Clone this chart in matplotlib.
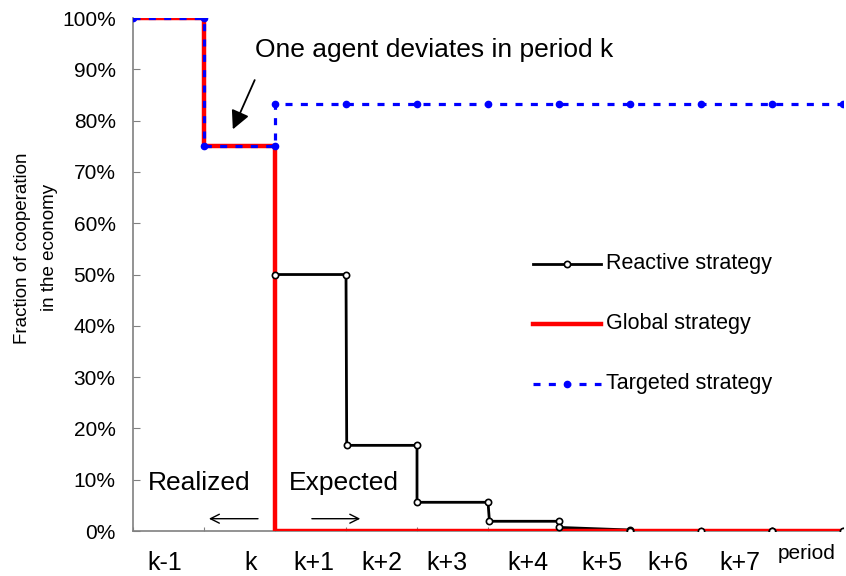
import numpy as np
import matplotlib.pyplot as plt
from matplotlib.ticker import PercentFormatter

plt.rcParams['font.family'] = ['Liberation Sans', 'DejaVu Sans']

# data (fraction of cooperation, in %)
global_x = [0, 1, 1, 2, 2, 10]
global_y = [100, 100, 75, 75, 0, 0]

targeted_x = [0, 1, 1, 2, 2, 3, 4, 5, 6, 7, 8, 9, 10]
targeted_y = [100, 100, 75, 75, 83.3, 83.3, 83.3, 83.3, 83.3, 83.3, 83.3, 83.3, 83.3]

reactive_x = [2, 3, 3.01, 4, 4, 5, 5.02, 6, 6, 7, 7, 8, 9, 9, 10]
reactive_y = [50, 50, 16.7, 16.7, 5.6, 5.6, 1.9, 1.9, 0.7, 0.2, 0.07, 0.02, 0.01, 0.0, 0.0]

period_labels = ['k-1', 'k', 'k+1', 'k+2', 'k+3', 'k+4', 'k+5', 'k+6', 'k+7']
period_label_x = [0.45, 1.65, 2.55, 3.51, 4.42, 5.56, 6.61, 7.54, 8.55]

fig = plt.figure(figsize=(8.46, 5.76), dpi=100)
ax = fig.add_axes([0.1572, 0.0781, 0.8393, 0.8906])

# reactive line under the red one, markers on top
ax.plot(reactive_x, reactive_y, '-', c='k', lw=2, zorder=2)
ax.plot(global_x, global_y, '-', c='#ff0000', lw=3.2, zorder=3, solid_capstyle='butt')
ax.plot(reactive_x, reactive_y, 'o', mfc='white', mec='k', mew=1.2, ms=4.5, zorder=4)
ax.plot(targeted_x, targeted_y, c='#0000ff', lw=2.3, ls=(0, (2.2, 2.6)), zorder=5)
ax.plot(targeted_x, targeted_y, 'o', c='#0000ff', ms=4.5, zorder=5)

ax.set_xlim(0, 10)
ax.set_ylim(0, 100)
ax.set_yticks(np.arange(0, 101, 10))
ax.yaxis.set_major_formatter(PercentFormatter(decimals=0))
ax.set_xticks(np.arange(0, 11, 1))
ax.set_xticklabels([])
ax.tick_params(axis='y', direction='in', length=5, color='#808080', labelsize=15, pad=12.5)
ax.tick_params(axis='x', direction='in', length=3, color='#808080')
for s in ['top', 'right']:
    ax.spines[s].set_visible(False)
for s in ['left', 'bottom']:
    ax.spines[s].set_color('#808080')
    ax.spines[s].set_linewidth(1.2)
for lab in ax.get_yticklabels():
    lab.set_clip_on(False)

# y label, placed by hand (sits a bit above the axis centre)
ax.text(-0.1366, 0.552, 'Fraction of cooperation\nin the economy', transform=ax.transAxes,
        rotation=90, ha='center', va='center', multialignment='center',
        fontsize=13.5, linespacing=1.75)

# period labels below the axis
for lab, xp in zip(period_labels, period_label_x):
    ax.text(xp, -6.2, lab, ha='center', va='center', fontsize=18)
ax.text(9.49, -4.3, 'period', ha='center', va='center', fontsize=15)

# annotations
ax.annotate('', xy=(1.39, 77.8), xytext=(1.73, 88.4),
            arrowprops=dict(arrowstyle='-|>', color='k', lw=1.3, mutation_scale=28))
ax.text(1.72, 93.8, 'One agent deviates in period k', fontsize=19, va='center')
ax.text(0.21, 9.4, 'Realized', fontsize=19, va='center')
ax.text(2.19, 9.4, 'Expected', fontsize=19, va='center')
ax.annotate('', xy=(1.03, 2.4), xytext=(1.8, 2.4),
            arrowprops=dict(arrowstyle='->', color='k', lw=1, mutation_scale=16))
ax.annotate('', xy=(3.24, 2.4), xytext=(2.48, 2.4),
            arrowprops=dict(arrowstyle='->', color='k', lw=1, mutation_scale=16))

# hand-placed legend
leg_x0, leg_x1 = 5.63, 6.59
ax.plot([leg_x0, leg_x1], [52.1, 52.1], c='k', lw=2, clip_on=False)
ax.plot([(leg_x0 + leg_x1) / 2], [52.1], 'o', mfc='white', mec='k', mew=1.2, ms=4.5)
ax.plot([leg_x0, leg_x1], [40.4, 40.4], c='#ff0000', lw=3.2)
ax.plot([leg_x0, leg_x1], [28.7, 28.7], c='#0000ff', lw=2.3, ls=(0, (2.2, 2.6)))
ax.plot([(leg_x0 + leg_x1) / 2], [28.7], 'o', c='#0000ff', ms=4.5)
ax.text(6.66, 52.1, 'Reactive strategy', fontsize=15.5, va='center')
ax.text(6.66, 40.4, 'Global strategy', fontsize=15.5, va='center')
ax.text(6.66, 28.7, 'Targeted strategy', fontsize=15.5, va='center')

fig.savefig('out.png', dpi=100)
